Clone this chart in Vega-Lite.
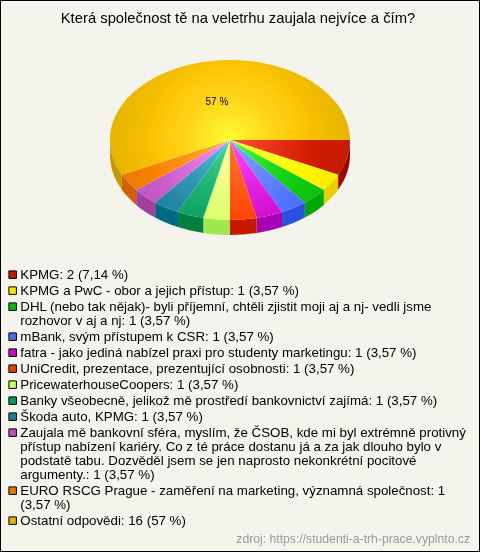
{"$schema":"https://vega.github.io/schema/vega-lite/v6.json","width":480,"height":552,"padding":0,"autosize":"none","background":"#f4f4ec","view":{"fill":"#f4f4ec","stroke":"#000","strokeWidth":2},"title":{"text":"Která společnost tě na veletrhu zaujala nejvíce a čím?","anchor":"middle","offset":-26,"dx":-2,"font":"Liberation Sans","fontSize":14.8,"fontWeight":"normal","color":"#000"},"config":{"font":"Liberation Sans","style":{"guide-label":{"lineHeight":14}}},"data":{"values":[{"order":1,"label":"KPMG: 2 (7,14 %)","n":2,"pct":"7,14 %"},{"order":2,"label":"KPMG a PwC - obor a jejich přístup: 1 (3,57 %)","n":1,"pct":"3,57 %"},{"order":3,"label":"DHL (nebo tak nějak)- byli příjemní, chtěli zjistit moji aj a nj- vedli jsme\nrozhovor v aj a nj: 1 (3,57 %)","n":1,"pct":"3,57 %"},{"order":4,"label":"mBank, svým přístupem k CSR: 1 (3,57 %)","n":1,"pct":"3,57 %"},{"order":5,"label":"fatra - jako jediná nabízel praxi pro studenty marketingu: 1 (3,57 %)","n":1,"pct":"3,57 %"},{"order":6,"label":"UniCredit, prezentace, prezentující osobnosti: 1 (3,57 %)","n":1,"pct":"3,57 %"},{"order":7,"label":"PricewaterhouseCoopers: 1 (3,57 %)","n":1,"pct":"3,57 %"},{"order":8,"label":"Banky všeobecně, jelikož mě prostředí bankovnictví zajímá: 1 (3,57 %)","n":1,"pct":"3,57 %"},{"order":9,"label":"Škoda auto, KPMG: 1 (3,57 %)","n":1,"pct":"3,57 %"},{"order":10,"label":"Zaujala mě bankovní sféra, myslím, že ČSOB, kde mi byl extrémně protivný\npřístup nabízení kariéry. Co z té práce dostanu já a za jak dlouho bylo v\npodstatě tabu. Dozvěděl jsem se jen naprosto nekonkrétní pocitové\nargumenty.: 1 (3,57 %)","n":1,"pct":"3,57 %"},{"order":11,"label":"EURO RSCG Prague - zaměření na marketing, významná společnost: 1\n(3,57 %)","n":1,"pct":"3,57 %"},{"order":12,"label":"Ostatní odpovědi: 16 (57 %)","n":16,"pct":"57 %"}]},"transform":[{"stack":"n","sort":[{"field":"order","order":"ascending"}],"offset":"normalize","as":["s0","s1"]},{"calculate":"2*PI*datum.s0","as":"t0"},{"calculate":"2*PI*datum.s1","as":"t1"},{"calculate":"'M0,0L'+round(12000*cos(datum.t0))/100+','+round(8000*sin(datum.t0))/100+'A120,80 0 '+(datum.t1-datum.t0>PI?1:0)+' 1 '+round(12000*cos(datum.t1))/100+','+round(8000*sin(datum.t1))/100+'Z'","as":"top"},{"calculate":"min(datum.t1,PI)","as":"e1"},{"calculate":"'M'+round(12000*cos(datum.t0))/100+','+round(8000*sin(datum.t0))/100+'A120,80 0 0 1 '+round(12000*cos(datum.e1))/100+','+round(8000*sin(datum.e1))/100+'L'+round(12000*cos(datum.e1))/100+','+(round(8000*sin(datum.e1))/100+15)+'A120,80 0 0 0 '+round(12000*cos(datum.t0))/100+','+(round(8000*sin(datum.t0))/100+15)+'Z'","as":"side"},{"calculate":"(datum.t0+datum.t1)/2","as":"mid"},{"calculate":"0.49*120*cos(datum.mid)","as":"lx"},{"calculate":"0.49*80*sin(datum.mid)","as":"ly"}],"encoding":{"x":{"type":"quantitative","scale":{"domain":[-230,250],"nice":false,"zero":false},"axis":null},"y":{"type":"quantitative","scale":{"domain":[-140,412],"nice":false,"zero":false,"reverse":true},"axis":null}},"layer":[{"transform":[{"filter":"datum.t0<PI"}],"mark":{"type":"point","filled":true,"opacity":1},"encoding":{"x":{"datum":0},"y":{"datum":0},"shape":{"field":"side","type":"nominal","scale":null},"size":{"value":4},"color":{"field":"label","type":"nominal","sort":{"field":"order"},"legend":null,"scale":{"domain":["KPMG: 2 (7,14 %)","KPMG a PwC - obor a jejich přístup: 1 (3,57 %)","DHL (nebo tak nějak)- byli příjemní, chtěli zjistit moji aj a nj- vedli jsme\nrozhovor v aj a nj: 1 (3,57 %)","mBank, svým přístupem k CSR: 1 (3,57 %)","fatra - jako jediná nabízel praxi pro studenty marketingu: 1 (3,57 %)","UniCredit, prezentace, prezentující osobnosti: 1 (3,57 %)","PricewaterhouseCoopers: 1 (3,57 %)","Banky všeobecně, jelikož mě prostředí bankovnictví zajímá: 1 (3,57 %)","Škoda auto, KPMG: 1 (3,57 %)","Zaujala mě bankovní sféra, myslím, že ČSOB, kde mi byl extrémně protivný\npřístup nabízení kariéry. Co z té práce dostanu já a za jak dlouho bylo v\npodstatě tabu. Dozvěděl jsem se jen naprosto nekonkrétní pocitové\nargumenty.: 1 (3,57 %)","EURO RSCG Prague - zaměření na marketing, významná společnost: 1\n(3,57 %)","Ostatní odpovědi: 16 (57 %)"],"range":["#a00000","#e6d000","#00a800","#2a50e0","#a800b4","#c81800","#a0e850","#008040","#006880","#a040a0","#d06000","#c89800"]}}}},{"mark":{"type":"point","filled":true,"opacity":1},"encoding":{"x":{"datum":0},"y":{"datum":0},"shape":{"field":"top","type":"nominal","scale":null},"size":{"value":4},"color":{"field":"label","type":"nominal","sort":null,"scale":{"domain":["KPMG: 2 (7,14 %)","KPMG a PwC - obor a jejich přístup: 1 (3,57 %)","DHL (nebo tak nějak)- byli příjemní, chtěli zjistit moji aj a nj- vedli jsme\nrozhovor v aj a nj: 1 (3,57 %)","mBank, svým přístupem k CSR: 1 (3,57 %)","fatra - jako jediná nabízel praxi pro studenty marketingu: 1 (3,57 %)","UniCredit, prezentace, prezentující osobnosti: 1 (3,57 %)","PricewaterhouseCoopers: 1 (3,57 %)","Banky všeobecně, jelikož mě prostředí bankovnictví zajímá: 1 (3,57 %)","Škoda auto, KPMG: 1 (3,57 %)","Zaujala mě bankovní sféra, myslím, že ČSOB, kde mi byl extrémně protivný\npřístup nabízení kariéry. Co z té práce dostanu já a za jak dlouho bylo v\npodstatě tabu. Dozvěděl jsem se jen naprosto nekonkrétní pocitové\nargumenty.: 1 (3,57 %)","EURO RSCG Prague - zaměření na marketing, významná společnost: 1\n(3,57 %)","Ostatní odpovědi: 16 (57 %)"],"range":["#c41a00","#ffe600","#0cbb0c","#4a6cf0","#c40fc4","#e84000","#ccff66","#0a9a5a","#1f7f99","#bb55bb","#e87800","#e6b400"]},"legend":{"title":null,"orient":"none","legendX":6,"legendY":268,"symbolType":"square","symbolSize":56,"symbolStrokeColor":"#000","symbolStrokeWidth":1,"symbolOpacity":1,"labelFont":"Liberation Sans","labelFontSize":13.3,"labelColor":"#000","labelLimit":500,"labelOffset":1,"rowPadding":2,"padding":0,"labelExpr":"split(datum.label,'\\n')"}}}},{"data":{"values":[{"part":"whole pie"}]},"mark":{"type":"point","filled":true,"opacity":1,"size":4,"shape":"M-120,0A120,80 0 1 1 120,0A120,80 0 1 1 -120,0Z","blend":"color-dodge","fill":{"gradient":"radial","stops":[{"offset":0,"color":"#484848"},{"offset":0.4,"color":"#202020"},{"offset":1,"color":"#000000"}]}},"encoding":{"x":{"datum":0},"y":{"datum":0}}},{"data":{"values":[{"part":"whole pie"}]},"mark":{"type":"point","filled":true,"opacity":1,"size":4,"shape":"M-120,0A120,80 0 1 1 120,0A120,80 0 1 1 -120,0Z","fill":{"gradient":"radial","stops":[{"offset":0,"color":"rgba(255,255,255,0.2)"},{"offset":0.7,"color":"rgba(255,255,255,0)"},{"offset":1,"color":"rgba(255,255,255,0)"}]}},"encoding":{"x":{"datum":0},"y":{"datum":0}}},{"transform":[{"filter":"datum.n>2"}],"mark":{"type":"text","font":"Liberation Sans","fontSize":10,"color":"#000"},"encoding":{"x":{"field":"lx","type":"quantitative"},"y":{"field":"ly","type":"quantitative"},"text":{"field":"pct","type":"nominal"}}},{"data":{"values":[{"source":"zdroj: https://studenti-a-trh-prace.vyplnto.cz"}]},"mark":{"type":"text","font":"Liberation Sans","fontSize":12.2,"color":"#999999","align":"right"},"encoding":{"x":{"datum":240},"y":{"datum":399},"text":{"field":"source","type":"nominal"}}}],"resolve":{"scale":{"color":"independent"}}}
